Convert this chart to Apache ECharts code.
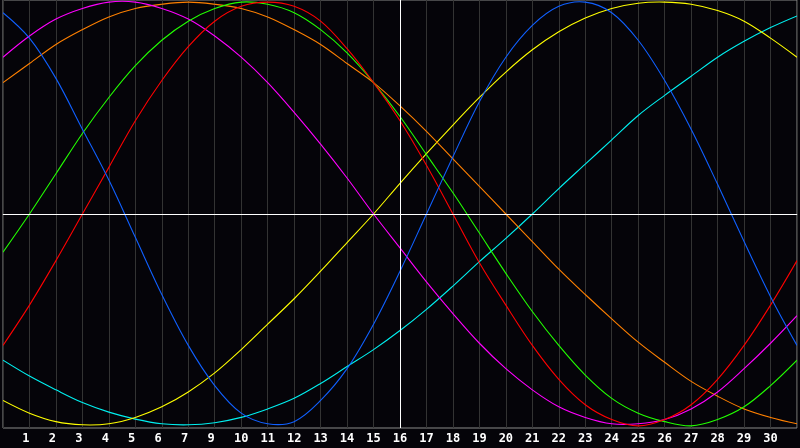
<!DOCTYPE html>
<html>
<head>
<meta charset="utf-8">
<script src="https://cdn.jsdelivr.net/npm/echarts@6/dist/echarts.min.js"></script>
<style>
html,body{margin:0;padding:0;background:#050409;}
#c{width:800px;height:448px;}
</style>
</head>
<body>
<div id="c"></div>
<script>
// x positions 0..30 (gridlines); tick labels at gridlines 1..29 (day 8 is absent in the original)
var dayLabels = ['1','2','3','4','5','6','7','9','10','11','12','13','14','15','16','17','18','19','20','21','22','23','24','25','26','27','28','29','30'];
var todayIndex = 15;

var blueVals    = [0.95,0.83,0.64,0.40,0.16,-0.11,-0.38,-0.62,-0.81,-0.94,-0.99,-0.98,-0.88,-0.73,-0.52,-0.27,0.00,0.27,0.53,0.74,0.89,0.98,1.00,0.95,0.82,0.63,0.40,0.14,-0.13,-0.39,-0.62];
var redVals     = [-0.62,-0.43,-0.22,0.00,0.22,0.44,0.63,0.79,0.91,0.98,1.00,0.98,0.91,0.78,0.62,0.44,0.23,0.00,-0.23,-0.43,-0.62,-0.78,-0.90,-0.97,-1.00,-0.97,-0.90,-0.78,-0.62,-0.43,-0.22];
var greenVals   = [-0.18,0.00,0.19,0.38,0.55,0.70,0.82,0.91,0.97,1.00,0.99,0.95,0.87,0.76,0.62,0.46,0.28,0.10,-0.09,-0.28,-0.46,-0.62,-0.76,-0.87,-0.94,-0.98,-1.00,-0.97,-0.91,-0.81,-0.69];
var magentaVals = [0.74,0.84,0.92,0.97,1.00,1.00,0.97,0.92,0.84,0.74,0.62,0.48,0.33,0.17,0.00,-0.16,-0.32,-0.47,-0.61,-0.73,-0.83,-0.91,-0.96,-0.99,-0.99,-0.97,-0.92,-0.84,-0.73,-0.61,-0.48];
var orangeVals  = [0.62,0.71,0.80,0.87,0.93,0.97,0.99,1.00,0.99,0.97,0.93,0.87,0.80,0.71,0.62,0.51,0.39,0.26,0.13,0.00,-0.13,-0.26,-0.38,-0.495,-0.605,-0.70,-0.79,-0.86,-0.92,-0.96,-0.99];
var yellowVals  = [-0.88,-0.94,-0.98,-0.995,-0.99,-0.96,-0.91,-0.84,-0.75,-0.64,-0.52,-0.40,-0.27,-0.135,0.00,0.145,0.285,0.42,0.55,0.67,0.775,0.86,0.925,0.97,0.995,1.00,0.99,0.96,0.91,0.83,0.74];
var cyanVals    = [-0.69,-0.765,-0.83,-0.89,-0.935,-0.968,-0.99,-0.995,-0.985,-0.96,-0.92,-0.87,-0.80,-0.72,-0.64,-0.55,-0.45,-0.34,-0.225,-0.115,0.00,0.12,0.235,0.35,0.465,0.56,0.65,0.74,0.815,0.88,0.935];

var curves = [
  {vals: cyanVals,    color: '#00f0f0'},
  {vals: yellowVals,  color: '#ffff00'},
  {vals: orangeVals,  color: '#ff8000'},
  {vals: magentaVals, color: '#ff00ff'},
  {vals: greenVals,   color: '#22ff00'},
  {vals: redVals,     color: '#ff0000'},
  {vals: blueVals,    color: '#1060ff'}
];

function toPoints(arr){ return arr.map(function(v,i){ return [i, v]; }); }

function makeRender(vals, color){
  return function(params, api){
    if (params.dataIndex !== 0) return null;
    var pts = vals.map(function(v, i){ return api.coord([i, v]); });
    return {
      type: 'polyline', silent: true,
      shape: {points: pts, smooth: 0.35},
      style: {stroke: color, fill: null, lineWidth: 1.1}
    };
  };
}

var series = [{
  type: 'line', data: [], z: 1, silent: true,
  markLine: {
    silent: true, symbol: 'none', animation: false,
    label: {show: false},
    lineStyle: {color: '#ffffff', width: 1, type: 'solid'},
    data: [{xAxis: todayIndex}, {yAxis: 0}]
  }
}];
curves.forEach(function(c){
  series.push({
    type: 'custom', data: toPoints(c.vals), encode: {x: 0, y: 1},
    renderItem: makeRender(c.vals, c.color), z: 2, silent: true, clip: true
  });
});

var chart = echarts.init(document.getElementById('c'));
chart.setOption({
  backgroundColor: '#050409',
  animation: false,
  grid: {left: 0, right: 0, top: 0, bottom: 20, show: true, borderColor: '#8a8a8a', borderWidth: 1, backgroundColor: 'transparent'},
  xAxis: {
    type: 'value', min: 0, max: 30, interval: 1,
    axisLine: {show: true, lineStyle: {color: '#8a8a8a'}},
    axisTick: {show: false},
    splitLine: {show: true, lineStyle: {color: '#333333', width: 1}},
    axisLabel: {
      show: true, color: '#ffffff', fontFamily: 'DejaVu Sans Mono', fontWeight: 'bold', fontSize: 12, margin: 5,
      formatter: function(v){
        if (v >= 1 && v <= dayLabels.length) { var s = dayLabels[v-1]; return s.length < 2 ? s + ' ' : s; }
        return '';
      }
    }
  },
  yAxis: {
    type: 'value', min: -1.01, max: 1.01,
    axisLine: {show: false}, axisTick: {show: false}, axisLabel: {show: false}, splitLine: {show: false}
  },
  series: series
});
</script>
</body>
</html>
